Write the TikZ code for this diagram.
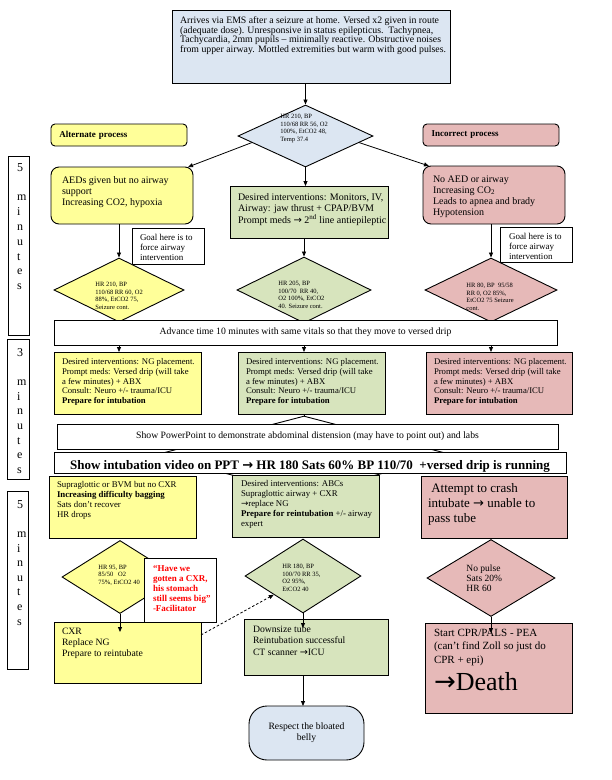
\documentclass[tikz,border=0pt]{standalone}
\usepackage{fontspec}
\setmainfont{Liberation Serif}
\newfontfamily\arrowfont{DejaVu Sans}
\usetikzlibrary{arrows.meta, shapes.geometric, calc}
\definecolor{cblue}{HTML}{DCE6F2}
\definecolor{cyel}{HTML}{FFFF99}
\definecolor{cgreen}{HTML}{D7E4BD}
\definecolor{cpink}{HTML}{E6B9B8}
\definecolor{cred}{HTML}{FF0000}
\newcommand{\rarr}{{\arrowfont →}}
\newcommand{\fs}[2]{\fontsize{#1}{#2}\selectfont}
\newcommand{\boxtext}[3]{\parbox[c][#2pt][t]{#1pt}{\begin{tabular}[t]{@{}l@{}}#3\end{tabular}}}
\tikzset{
  every picture/.style={line width=0.9pt},
  cell/.style={draw, fill=#1, anchor=north west, outer sep=0pt},
  cell/.default=white,
  proc/.style={cell=#1, rounded corners=4pt, minimum height=22pt, text width=119pt, inner xsep=8.5pt, align=left, font=\fs{9}{10}\bfseries},
  dia/.style={diamond, draw, fill=#1, inner sep=0pt},
  vit/.style={anchor=west, align=left, inner sep=0pt, font=\fs{6.5}{7.6}},
  mins/.style={anchor=north west, align=left, inner sep=0pt, font=\fs{12}{14.8}},
  arr/.style={-{Triangle[length=5pt, width=4pt]}, line width=0.8pt},
}

\begin{document}
\begin{tikzpicture}[x=1pt, y=-1pt]
  \useasboundingbox (0,0) rectangle (612,780);
  % opening scenario
  \node[cell=cblue, inner xsep=8pt, inner ysep=6.5pt, font=\fs{9.8}{9.6}] (arrive) at (172,10) {\boxtext{262}{60}{Arrives via EMS after a seizure at home. Versed x2 given in route\\(adequate dose). Unresponsive in status epilepticus.\ \ Tachypnea,\\Tachycardia, 2mm pupils -- minimally reactive. Obstructive noises\\from upper airway. Mottled extremities but warm with good pulses.}};
  \node[dia=cblue, minimum width=135pt, minimum height=62pt] (d1) at (305.5,136) {};
  \node[vit] (v1) at (280,128.5) {HR 210, BP\\110/68 RR 56, O2\\100\%, EtCO2 48,\\Temp 37.4};
  \node[proc=cyel] (alt) at (51,124) {Alternate process};
  \node[proc=cpink] (inc) at (423,124) {Incorrect process};
  % first five minutes
  \node[cell=cyel, rounded corners=8pt, inner xsep=11pt, inner ysep=8.6pt, font=\fs{10}{11}] (aed) at (51,167) {\boxtext{120}{39.8}{AEDs given but no airway\\support\\Increasing CO2, hypoxia}};
  \node[cell=cgreen, inner xsep=8pt, inner ysep=6.6pt, font=\fs{10}{11}] (g1) at (230,186) {\boxtext{142}{38.8}{Desired interventions: Monitors, IV,\\Airway: jaw thrust + CPAP/BVM\\Prompt meds \rarr{} 2\textsuperscript{nd} line antiepileptic}};
  \node[cell=cpink, rounded corners=8pt, inner xsep=10pt, inner ysep=8.6pt, font=\fs{10}{11}] (noaed) at (423,166) {\boxtext{122}{40.8}{No AED or airway\\Increasing CO\textsubscript{2}\\Leads to apnea and brady\\Hypotension}};
  \node[cell, inner xsep=8pt, inner ysep=5pt, font=\fs{9}{10}] (goal1) at (132,228) {\boxtext{56}{26}{Goal here is to\\force airway\\intervention}};
  \node[cell, inner xsep=9pt, inner ysep=5pt, font=\fs{9}{10}] (goal2) at (500,227) {\boxtext{54}{25}{Goal here is to\\force airway\\intervention}};
  \node[dia=cyel, minimum width=130pt, minimum height=64pt] (d2) at (119,290) {};
  \node[vit] (v2) at (95,296) {HR 210, BP\\110/68 RR 60, O2\\88\%, EtCO2 75,\\Seizure cont.};
  \node[dia=cgreen, minimum width=134pt, minimum height=66pt] (d3) at (304,290) {};
  \node[vit] (v3) at (278,295) {HR 205, BP\\100/70\ \ RR 40,\\O2 100\%, EtCO2\\40. Seizure cont.};
  \node[dia=cpink, minimum width=132pt, minimum height=64pt] (d4) at (491,290) {};
  \node[vit] (v4) at (466,297) {HR 80, BP\ \ 95/58\\RR 0, O2 85\%,\\EtCO2 75 Seizure\\cont.};
  \node[cell, minimum width=503pt, minimum height=25pt, font=\fs{9.7}{11}] (adv) at (54,320) {Advance time 10 minutes with same vitals so that they move to versed drip};
  % three minutes
  \node[cell=cyel, inner xsep=8pt, inner ysep=6.1pt, font=\fs{8.7}{9.7}] (y2) at (54,352) {\boxtext{131}{49.8}{Desired interventions: NG placement.\\Prompt meds: Versed drip (will take\\a few minutes) + ABX\\Consult: Neuro +/- trauma/ICU\\\textbf{Prepare for intubation}}};
  \node[cell=cgreen, inner xsep=8pt, inner ysep=6.1pt, font=\fs{8.7}{9.7}] (g2) at (238,352) {\boxtext{131}{49.8}{Desired interventions: NG placement.\\Prompt meds: Versed drip (will take\\a few minutes) + ABX\\Consult: Neuro +/- trauma/ICU\\\textbf{Prepare for intubation}}};
  \node[cell=cpink, inner xsep=8pt, inner ysep=6.1pt, font=\fs{8.7}{9.7}] (p2) at (426,352) {\boxtext{130}{49.8}{Desired interventions: NG placement.\\Prompt meds: Versed drip (will take\\a few minutes) + ABX\\Consult: Neuro +/- trauma/ICU\\\textbf{Prepare for intubation}}};
  \node[dia=white, minimum width=298pt, minimum height=78pt] (hid) at (304,455) {};
  \node[cell, minimum width=501pt, minimum height=25pt, font=\fs{9.7}{11}] (showpp) at (57,424) {Show PowerPoint to demonstrate abdominal distension (may have to point out) and labs};
  \node[cell, minimum width=512pt, minimum height=21pt, text height=13.5pt, text depth=0pt, font=\fs{13}{15}\bfseries] (intub) at (54,452) {Show intubation video on PPT \rarr{} HR 180 Sats 60\% BP 110/70\ \ +versed drip is running};
  % last five minutes
  \node[cell=cyel, inner xsep=8pt, inner ysep=4.9pt, font=\fs{8.8}{10}] (y3) at (49,476) {\boxtext{131}{52.2}{Supraglottic or BVM but no CXR\\\textbf{Increasing difficulty bagging}\\Sats don't recover\\HR drops}};
  \node[cell=cgreen, inner xsep=9pt, inner ysep=4.9pt, font=\fs{8.8}{10}] (g3) at (232,475) {\boxtext{129}{52.2}{Desired interventions: ABCs\\Supraglottic airway + CXR\\\rarr replace NG\\\textbf{Prepare for reintubation} +/- airway\\expert}};
  \node[cell=cpink, inner xsep=7pt, inner ysep=5.8pt, font=\fs{13}{15}] (p3) at (421,476) {\boxtext{132}{50.4}{\ Attempt to crash\\intubate \rarr{} unable to\\pass tube}};
  \node[dia=cyel, minimum width=116pt, minimum height=73pt] (d5) at (120,577) {};
  \node[vit] (v5) at (98,575) {HR 95, BP\\85/50\ \ \ O2\\75\%, EtCO2 40};
  \node[cell, inner xsep=9pt, inner ysep=6pt, text=cred, font=\fs{9}{10}\bfseries] (fac) at (144,558) {\boxtext{54}{52}{``Have we\\gotten a CXR,\\his stomach\\still seems big''\\-Facilitator}};
  \node[dia=cgreen, minimum width=116pt, minimum height=74pt] (d6) at (303,576) {};
  \node[vit] (v6) at (282,578) {HR 180, BP\\100/70 RR 35,\\O2 95\%,\\EtCO2 40};
  \node[dia=cpink, minimum width=128pt, minimum height=77pt] (d7) at (491,578) {};
  \node[vit, font=\fs{9.5}{10}] (v7) at (466,578) {No pulse\\Sats 20\%\\HR 60};
  \node[cell=cyel, inner xsep=8pt, inner ysep=4.5pt, font=\fs{9.7}{11}] (cxr) at (54,622) {\boxtext{131}{52}{CXR\\Replace NG\\Prepare to reintubate}};
  \node[cell=cgreen, inner xsep=9pt, inner ysep=5.2pt, font=\fs{9.7}{11.5}] (down) at (244,619) {\boxtext{126}{45.6}{Downsize tube\\Reintubation successful\\CT scanner \rarr ICU}};
  \node[cell=cpink, inner xsep=9pt, inner ysep=4.3pt, font=\fs{11}{13.3}] (cpr) at (425,623) {\boxtext{129}{81.4}{Start CPR/PALS - PEA\\(can't find Zoll so just do\\CPR + epi)\\[5pt]{\fs{26}{30}\rarr\rmfamily Death}}};
  \node[cell=cblue, rounded corners=18pt, minimum width=115pt, minimum height=54pt, align=center, font=\fs{9.7}{11}] (resp) at (249,706) {Respect the bloated\\belly};
  % time blocks
  \node[cell, minimum width=21pt, minimum height=179pt] (t1) at (8,156) {};
  \node[mins] (t1l) at (16.7,163) {5\\[14.8pt]m\\i\\n\\u\\t\\e\\s};
  \node[cell, minimum width=22pt, minimum height=140pt] (t2) at (7,339) {};
  \node[mins, font=\fs{12}{14.6}] (t2l) at (16.7,348) {3\\[14.6pt]m\\i\\n\\u\\t\\e\\s};
  \node[cell, minimum width=21pt, minimum height=178pt] (t3) at (7,491) {};
  \node[mins, font=\fs{12}{14.6}] (t3l) at (16.7,500) {5\\[14.6pt]m\\i\\n\\u\\t\\e\\s};
  % connectors
  \draw[arr] (d1.north |- arrive.south) -- (d1.north);
  \draw[arr] (d1.187) -- ([xshift=-5pt]aed.north east);
  \draw[arr] (d1.353) -- ([xshift=6pt]noaed.north west);
  \draw[arr] (d1.south) -- (d1.south |- g1.north);
  \draw[arr] (d2.north |- aed.south) -- (d2.north);
  \draw[arr] (d3.north |- g1.south) -- (d3.north);
  \draw[arr] (d4.north |- noaed.south) -- (d4.north);
  \foreach \d/\b in {d2/y2, d3/g2, d4/p2}
    \draw[arr] (\d.south |- adv.south) -- (\d.south |- \b.north);
  \draw (hid.north |- g2.south) -- (hid.north);
  \draw[arr] (d5.south) -- ($(d5.south |- cxr.north)+(0,10)$);
  \draw[arr] (d6.south) -- ($(d6.south |- down.north)+(0,9)$);
  \draw[arr] (d7.south) -- ($(d7.south |- cpr.north)+(0,10)$);
  \draw[arr, dash pattern=on 2.5pt off 2pt] ([yshift=-13pt]cxr.north east) -- (d6.south west);
  \draw[arr] (d6.south |- down.south) -- (d6.south |- resp.north);
\end{tikzpicture}
\end{document}
